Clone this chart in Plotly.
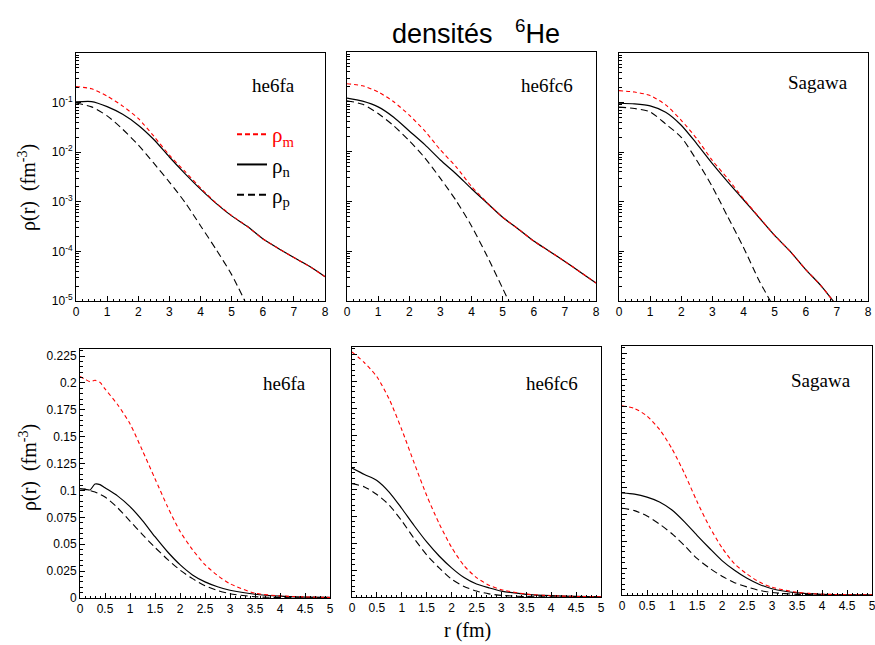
import plotly.graph_objects as go

W, H = 875, 645

# ---------------- data ----------------
# top row: logarithmic panels, r in fm
R_LOG = [0, 0.5, 1, 1.5, 2, 2.5, 3, 3.5, 4, 4.5, 5, 5.5, 6, 6.5, 7, 7.5, 8]

FA_LOG_M = [0.21, 0.19, 0.135, 0.085, 0.048, 0.021, 0.0087, 0.0041, 0.0019, 9.5e-4, 5.3e-4,
            3.2e-4, 1.8e-4, 1.15e-4, 7.5e-5, 5.0e-5, 3.1e-5]
FA_LOG_N = [0.103, 0.105, 0.083, 0.058, 0.035, 0.018, 0.0080, 0.0037, 0.0018, 9.3e-4, 5.2e-4,
            3.2e-4, 1.8e-4, 1.15e-4, 7.5e-5, 5.0e-5, 3.1e-5]
FA_LOG_P = [0.098, 0.082, 0.054, 0.029, 0.014, 0.006, 0.0025, 9.8e-4, 3.3e-4, 1.1e-4, 3.4e-5,
            8e-6, None, None, None, None, None]

FC_LOG_M = [0.23, 0.21, 0.158, 0.10, 0.054, 0.026, 0.0108, 0.0050, 0.0020, 9.5e-4, 4.8e-4,
            2.8e-4, 1.6e-4, 1.0e-4, 6.2e-5, 3.8e-5, 2.3e-5]
FC_LOG_N = [0.119, 0.103, 0.079, 0.049, 0.026, 0.0138, 0.0068, 0.0036, 0.0018, 9.3e-4, 4.8e-4,
            2.8e-4, 1.6e-4, 1.0e-4, 6.2e-5, 3.8e-5, 2.3e-5]
FC_LOG_P = [0.105, 0.089, 0.058, 0.033, 0.0165, 0.0075, 0.0029, 1.05e-3, 3.2e-4, 8e-5, 1.8e-5,
            4e-6, None, None, None, None, None]

SG_LOG_M = [0.174, 0.163, 0.139, 0.09, 0.044, 0.0187, 0.0068, 0.0029, 0.00115, 4.9e-4, 2.1e-4,
            1.0e-4, 4.3e-5, 2.0e-5, 8e-6, None, None]
SG_LOG_N = [0.097, 0.094, 0.086, 0.064, 0.035, 0.0148, 0.0059, 0.0025, 0.0011, 4.8e-4, 2.1e-4,
            1.0e-4, 4.3e-5, 2.0e-5, 8e-6, None, None]
SG_LOG_P = [0.081, 0.076, 0.065, 0.037, 0.020, 0.0068, 0.0020, 4.9e-4, 1.2e-4, 2.6e-5, 7e-6,
            None, None, None, None, None, None]

# bottom row: linear panels
R_LIN_FA = [0, 0.1, 0.2, 0.3, 0.4, 0.5, 0.75, 1.0, 1.25, 1.5, 1.75, 2.0, 2.25, 2.5, 2.75,
            3.0, 3.5, 4.0, 4.5, 5.0]
FA_LIN_M = [0.206, 0.2035, 0.2012, 0.2025, 0.2005, 0.1945, 0.180, 0.162, 0.137, 0.111, 0.085,
            0.062, 0.045, 0.031, 0.021, 0.0133, 0.0045, 0.002, 0.001, 0.0005]
FA_LIN_N = [0.1016, 0.1012, 0.1005, 0.106, 0.1055, 0.1025, 0.095, 0.085, 0.072, 0.057, 0.043,
            0.031, 0.0215, 0.015, 0.0105, 0.0072, 0.0035, 0.0017, 0.0009, 0.0005]
FA_LIN_P = [0.1016, 0.101, 0.100, 0.0985, 0.0965, 0.094, 0.084, 0.0715, 0.059, 0.047, 0.036,
            0.026, 0.018, 0.0115, 0.007, 0.004, 0.0012, 0.0004, 0.0001, 0.0]

R_LIN = [0, 0.25, 0.5, 0.75, 1.0, 1.25, 1.5, 1.75, 2.0, 2.25, 2.5, 2.75, 3.0, 3.5, 4.0, 4.5, 5.0]
FC_LIN_M = [0.227, 0.217, 0.204, 0.183, 0.155, 0.124, 0.094, 0.068, 0.046, 0.029, 0.018, 0.011,
            0.0068, 0.0027, 0.0012, 0.0005, 0.0002]
FC_LIN_N = [0.1195, 0.1135, 0.108, 0.097, 0.082, 0.066, 0.051, 0.038, 0.027, 0.018, 0.012,
            0.0085, 0.0055, 0.0025, 0.0012, 0.0005, 0.0002]
FC_LIN_P = [0.105, 0.102, 0.095, 0.085, 0.0705, 0.054, 0.039, 0.027, 0.0165, 0.0098, 0.0055,
            0.0029, 0.0015, 0.0004, 0.0001, 0.0, 0.0]
SG_LIN_M = [0.176, 0.1735, 0.1665, 0.154, 0.136, 0.113, 0.087, 0.0635, 0.044, 0.029, 0.0195,
            0.012, 0.0072, 0.0025, 0.0008, 0.0003, 0.0001]
SG_LIN_N = [0.095, 0.0938, 0.091, 0.0865, 0.079, 0.068, 0.0555, 0.0435, 0.032, 0.023, 0.0155,
            0.0098, 0.0058, 0.0019, 0.0006, 0.0002, 0.0001]
SG_LIN_P = [0.0807, 0.0785, 0.0735, 0.066, 0.057, 0.046, 0.034, 0.025, 0.0175, 0.0115, 0.0075,
            0.0042, 0.0023, 0.0006, 0.00015, 0.0, 0.0]

MODEL_LABELS = ["he6fa", "he6fc6", "Sagawa"]
LOG_TICKVALS = [1e-5, 1e-4, 1e-3, 1e-2, 1e-1]
LOG_TICKTEXT = ["10<sup>-5</sup>", "10<sup>-4</sup>", "10<sup>-3</sup>", "10<sup>-2</sup>", "10<sup>-1</sup>"]
TOP_XTICKS = [0, 1, 2, 3, 4, 5, 6, 7, 8]
BOT_XTICKS = [0, 0.5, 1, 1.5, 2, 2.5, 3, 3.5, 4, 4.5, 5]
BOT_XTEXT = ["0", "0.5", "1", "1.5", "2", "2.5", "3", "3.5", "4", "4.5", "5"]
BOT_YTICKS = [0, 0.025, 0.05, 0.075, 0.1, 0.125, 0.15, 0.175, 0.2, 0.225]
BOT_YTEXT = ["0", "0.025", "0.05", "0.075", "0.1", "0.125", "0.15", "0.175", "0.2", "0.225"]

# ---------------- layout geometry (pixels) ----------------
BOXES = [  # left, right, top, bottom
    (76, 325, 53, 301), (347, 596, 52, 301), (619, 868, 53, 301),
    (80, 330, 349, 598), (352, 601, 347, 597), (622, 872, 346, 595),
]

def px_x(p):
    return p / W

def px_y(p):
    return 1 - p / H

RED = "#ff0000"
RED_DASH = "4px,3px"
BLK_DASH = "7px,4px"
TICKFONT = dict(family="Liberation Sans, Arial, sans-serif", size=12, color="black")
SERIF = "Liberation Serif, Times New Roman, serif"

panels = [
    (R_LOG, FA_LOG_M, FA_LOG_N, FA_LOG_P),
    (R_LOG, FC_LOG_M, FC_LOG_N, FC_LOG_P),
    (R_LOG, SG_LOG_M, SG_LOG_N, SG_LOG_P),
    (R_LIN_FA, FA_LIN_M, FA_LIN_N, FA_LIN_P),
    (R_LIN, FC_LIN_M, FC_LIN_N, FC_LIN_P),
    (R_LIN, SG_LIN_M, SG_LIN_N, SG_LIN_P),
]

fig = go.Figure()

for i, (r, m, n, p) in enumerate(panels):
    k = "" if i == 0 else str(i + 1)
    xa, ya = "x" + k, "y" + k
    common = dict(x=r, xaxis=xa, yaxis=ya, mode="lines", showlegend=False,
                  hoverinfo="skip", line_shape="spline")
    fig.add_trace(go.Scatter(y=p, line=dict(color="black", width=1.1, dash=BLK_DASH, smoothing=0.7), **common))
    fig.add_trace(go.Scatter(y=n, line=dict(color="black", width=1.2, smoothing=0.7), **common))
    fig.add_trace(go.Scatter(y=m, line=dict(color=RED, width=1.1, dash=RED_DASH, smoothing=0.7), **common))

# legend entries (panel 1)
fig.add_trace(go.Scatter(x=[None], y=[None], mode="lines", name="<span style='color:#ff0000'>ρ<sub>m</sub></span>",
                         line=dict(color=RED, width=2, dash="5px,3px")))
fig.add_trace(go.Scatter(x=[None], y=[None], mode="lines", name="ρ<sub>n</sub>",
                         line=dict(color="black", width=2)))
fig.add_trace(go.Scatter(x=[None], y=[None], mode="lines", name="ρ<sub>p</sub>",
                         line=dict(color="black", width=2, dash="7px,4px")))

minor_log = []
for e in range(-5, 0):
    for c in range(2, 10):
        minor_log.append(c * 10 ** e)

layout = dict(
    width=W, height=H, autosize=False,
    margin=dict(l=0, r=0, t=0, b=0, autoexpand=False),
    paper_bgcolor="white", plot_bgcolor="white",
    showlegend=True,
    legend=dict(x=px_x(232), y=px_y(114), xanchor="left", yanchor="top",
                bgcolor="rgba(0,0,0,0)", font=dict(family=SERIF, size=21, color="black"),
                itemwidth=30, tracegroupgap=0),
)

for i, (l, rr, t, b) in enumerate(BOXES):
    k = "" if i == 0 else str(i + 1)
    top = i < 3
    base = dict(showline=True, linecolor="black", linewidth=1, mirror=True, showgrid=False,
                zeroline=False, ticks="inside", tickcolor="black", tickwidth=1, ticklen=5,
                tickfont=TICKFONT, fixedrange=True, automargin=False)
    xa = dict(base, domain=[px_x(l), px_x(rr)], anchor="y" + k, ticklabeloverflow="allow")
    ya = dict(base, domain=[px_y(b), px_y(t)], anchor="x" + k)
    if top:
        xa.update(range=[0, 8], tickmode="array", tickvals=TOP_XTICKS,
                  minor=dict(dtick=0.2, tick0=0, ticks="inside", ticklen=2.5, tickcolor="black", tickwidth=1))
        ya.update(type="log", range=[-5, 0], tickmode="array", tickvals=LOG_TICKVALS,
                  ticktext=LOG_TICKTEXT,
                  minor=dict(tickmode="array", tickvals=minor_log, ticks="inside", ticklen=2.5,
                             tickcolor="black", tickwidth=1))
    else:
        xa.update(range=[0, 5], tickmode="array", tickvals=BOT_XTICKS, ticktext=BOT_XTEXT,
                  minor=dict(dtick=0.1, tick0=0, ticks="inside", ticklen=2.5, tickcolor="black", tickwidth=1))
        ya.update(range=[0, 0.2316], tickmode="array", tickvals=BOT_YTICKS, ticktext=BOT_YTEXT,
                  minor=dict(dtick=0.005, tick0=0, ticks="inside", ticklen=2.5, tickcolor="black", tickwidth=1))
    if i not in (0, 3):
        ya.update(showticklabels=False)
    layout["xaxis" + k] = xa
    layout["yaxis" + k] = ya

fig.update_layout(**layout)

# panel labels
LABEL_POS = [(273, 85), (547, 85), (818, 83), (284, 383), (552, 383), (821, 380)]
for i, (cx, cy) in enumerate(LABEL_POS):
    fig.add_annotation(x=px_x(cx), y=px_y(cy), xref="paper", yref="paper", showarrow=False,
                       text=MODEL_LABELS[i % 3], font=dict(family=SERIF, size=19, color="black"),
                       xanchor="center", yanchor="middle")

# y-axis titles
for cy in (188, 468):
    fig.add_annotation(x=px_x(28), y=px_y(cy), xref="paper", yref="paper", showarrow=False,
                       text="ρ(r)\u00a0\u00a0(fm<sup>-3</sup>)", textangle=-90,
                       font=dict(family=SERIF, size=20, color="black"),
                       xanchor="center", yanchor="middle")

# x-axis title
fig.add_annotation(x=px_x(468), y=px_y(630), xref="paper", yref="paper", showarrow=False,
                   text="r (fm)", font=dict(family=SERIF, size=20, color="black"),
                   xanchor="center", yanchor="middle")

# main title
fig.add_annotation(x=px_x(476), y=px_y(32), xref="paper", yref="paper", showarrow=False,
                   text="densités\u00a0\u00a0\u00a0<sup>6</sup>He",
                   font=dict(family="Liberation Sans, Arial, sans-serif", size=27, color="black"),
                   xanchor="center", yanchor="middle")

fig.write_html("out.html", config={"displayModeBar": False},
               post_script="document.body.style.margin='0px';document.body.style.overflow='hidden';")
